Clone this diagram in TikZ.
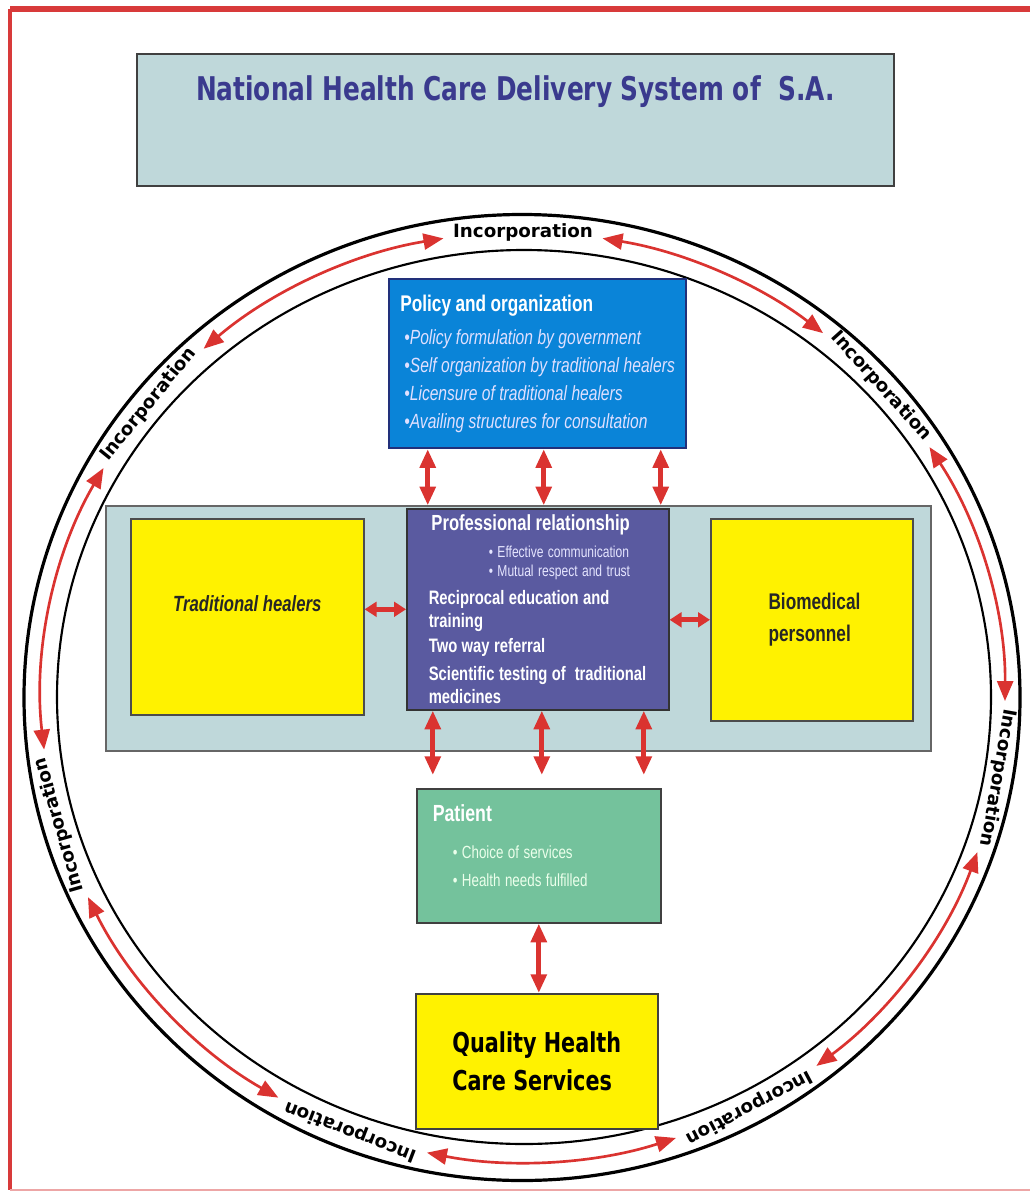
\documentclass[tikz,border=0pt]{standalone}
\usepackage{fontspec}
\setmainfont{Liberation Sans}
\newfontfamily\narrowfont[FakeStretch=0.76]{Liberation Sans}
\newfontfamily\heavyfont[FakeStretch=0.76]{DejaVu Sans}
\newfontfamily\ringfont{DejaVu Sans}
\usetikzlibrary{arrows.meta}
\setlength{\parindent}{0pt}

\definecolor{bandgray}{HTML}{BFD8DA}
\definecolor{titleblue}{HTML}{3A3A8E}
\definecolor{policyblue}{HTML}{0A84D8}
\definecolor{policyline}{HTML}{22307A}
\definecolor{propurple}{HTML}{5A5AA0}
\definecolor{patgreen}{HTML}{74C29C}
\definecolor{boxyellow}{HTML}{FFF200}
\definecolor{arrowred}{HTML}{DA3330}
\definecolor{framered}{HTML}{D83A3A}

\newcommand\ringcx{523}
\newcommand\ringcy{697}
\newcommand\ringrx{482}
\newcommand\ringry{465}

\tikzset{
  box/.style={anchor=north west, inner sep=0pt, line width=1.2pt, draw=black!75},
  ringlabel/.style={font=\ringfont\bfseries\fontsize{13.7}{16}\selectfont, inner sep=0pt},
  ringarrow/.style={<->, draw=arrowred, line width=2pt, >={Triangle[length=15pt,width=12pt]}},
  link/.style={<->, draw=arrowred, line width=3.75pt, >={Triangle[length=14pt,width=11.5pt]}},
  hlink/.style={<->, draw=arrowred, line width=4pt, >={Triangle[length=9pt,width=11pt]}}
}

\begin{document}
\begin{tikzpicture}[x=0.75pt,y=-0.75pt]
  \useasboundingbox (0,0) rectangle (1030,1192);
  % frame
  \draw[framered, line width=5pt] (1030,9) -- (10,9);
  \draw[framered, line width=3pt] (10,9) -- (10,1190);
  \draw[framered!45, line width=1.5pt] (10,1190) -- (1030,1190);

  % ring
  \draw[line width=2.4pt] (522,697.5) ellipse[x radius=498, y radius=483];
  \draw[line width=1.6pt] (524,697) ellipse[x radius=467, y radius=447];

  % title
  \node[box, fill=bandgray, minimum width=567.75pt, text height=35.25pt, text depth=63.75pt,
    font=\heavyfont\bfseries\fontsize{24.5}{29}\selectfont, text=titleblue]
    (title) at (136,53) {National Health Care Delivery System of\ \ S.A.};

  % policy
  \node[box, fill=policyblue, draw=policyline, line width=1.6pt, minimum height=126.75pt,
    text width=206pt, inner xsep=8.5pt, align=left, text=white, font=\narrowfont]
    (pol) at (388,278) {%
    {\fontsize{17}{21}\selectfont\bfseries Policy and organization\par}
    {\color{white!88!blue}\itshape
    \fontsize{15.4}{24.75}\selectfont \hspace*{3pt}•Policy formulation by government\par
    \fontsize{15.4}{21}\selectfont \hspace*{3pt}•Self organization by traditional healers\par
    \hspace*{3pt}•Licensure of traditional healers\par
    \hspace*{3pt}•Availing structures for consultation\par}};

  % middle band
  \node[box, fill=bandgray, draw=black!60, minimum width=618.75pt, minimum height=183.75pt]
    (band) at (105,505) {};

  \node[box, fill=boxyellow, draw=black!70, minimum width=174.75pt, text height=69.75pt,
    text depth=77.25pt, font=\narrowfont\bfseries\itshape\fontsize{16.5}{20}\selectfont,
    text=black!85] (th) at (130,518) {Traditional healers};

  \node[box, fill=propurple, draw=black!80, minimum height=150.75pt, text width=163.5pt,
    inner xsep=16.5pt, align=left, text=white, font=\narrowfont\bfseries] (pro) at (406,508) {%
    \fontsize{16.4}{20}\selectfont\hspace*{2pt}Professional relationship\par
    {\mdseries\color{white!90!blue}
    \fontsize{11.9}{20.25}\selectfont\hspace*{45pt}• Effective communication\par
    \fontsize{11.9}{14.25}\selectfont\hspace*{45pt}• Mutual respect and trust\par}
    \fontsize{14.6}{21}\selectfont Reciprocal education and\par
    \fontsize{14.6}{17.25}\selectfont training\par
    \fontsize{14.6}{18.75}\selectfont Two way referral\par
    \fontsize{14.6}{21}\selectfont Scientific testing of\ \ traditional\par
    \fontsize{14.6}{17.25}\selectfont medicines\par};

  \node[box, fill=boxyellow, draw=black!70, minimum width=151.5pt, minimum height=151.5pt,
    align=left, font=\narrowfont\bfseries\fontsize{17}{24}\selectfont, text=black!85]
    (bio) at (710,518) {\hspace*{4pt}Biomedical\\\hspace*{4pt}personnel};

  % patient
  \node[box, fill=patgreen, draw=black!75, minimum height=100.5pt, text width=159pt,
    inner xsep=12pt, align=left, text=white, font=\narrowfont] (pat) at (416,788) {%
    {\fontsize{17.5}{21}\selectfont\bfseries Patient\par}
    {\color{white!92!green}
    \fontsize{13.2}{27.75}\selectfont\hspace*{15pt}• Choice of services\par
    \fontsize{13.2}{21}\selectfont\hspace*{15pt}• Health needs fulfilled\par}
    \vspace*{16pt}};

  % outcome
  \node[box, fill=boxyellow, draw=black!75, minimum width=181.5pt, minimum height=101.25pt,
    align=left, font=\heavyfont\bfseries\fontsize{20.5}{28.5}\selectfont]
    (qhcs) at (415,993) {Quality Health\\Care Services};

  % links between the boxes
  \foreach \dx in {-82.5,4.5,92.25}
    \draw[link] ([xshift=\dx pt]pol.south) -- ([xshift=\dx pt, yshift=2pt]pol.south |- pro.north);
  \foreach \dx in {-78.75,3,79.5}
    \draw[link, shorten >=9.75pt] ([xshift=\dx pt]pro.south) -- ([xshift=\dx pt]pro.south |- pat.north);
  \draw[link] (pat.south) -- (pat.south |- qhcs.north);
  \draw[hlink] (pro.west -| th.east) -- (pro.west);
  \draw[hlink] (bio.west -| pro.east) -- (bio.west);

  % ring arrows and labels
  \foreach \s/\e in {90/42,42/-10,-10/-62,-62/-111,-111/-164,-164/-219,-219/-270}
    \draw[ringarrow] ({\ringcx+\ringrx*cos(\s-9.5)},{\ringcy-\ringry*sin(\s-9.5)})
      arc[start angle={9.5-(\s)}, end angle={-(\e)-9.5}, x radius=\ringrx, y radius=\ringry];
  \foreach \a [count=\i] in {90,42,-10,-62,-111,-164,141}
    \node[ringlabel, rotate=\a-90] (inc\i)
      at ({\ringcx+\ringrx*cos(\a)},{\ringcy-\ringry*sin(\a)}) {Incorporation};
\end{tikzpicture}
\end{document}
